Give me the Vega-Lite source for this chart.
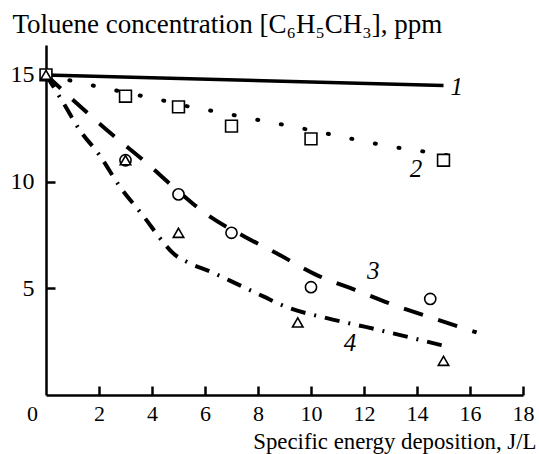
{
  "$schema": "https://vega.github.io/schema/vega-lite/v6.json",
  "width": 477,
  "height": 350,
  "autosize": {"type": "none"},
  "padding": {"left": 46, "top": 45, "right": 16, "bottom": 59},
  "background": "white",
  "config": {
    "view": {"stroke": null},
    "font": "Liberation Serif",
    "axis": {
      "grid": false,
      "domainColor": "black",
      "domainWidth": 2.5,
      "tickColor": "black",
      "tickWidth": 2.5,
      "labelFont": "Liberation Serif",
      "labelFontSize": 24,
      "labelColor": "black",
      "titleFont": "Liberation Serif",
      "titleFontSize": 22,
      "titleFontWeight": "normal",
      "titleColor": "black"
    }
  },
  "datasets": {
    "curves": [
      {"series": 1, "x": 0, "y": 15},
      {"series": 1, "x": 15, "y": 14.5},

      {"series": 2, "x": 0, "y": 15},
      {"series": 2, "x": 0.9, "y": 14.74},
      {"series": 2, "x": 1.85, "y": 14.48},
      {"series": 2, "x": 3.67, "y": 14.0},
      {"series": 2, "x": 4.55, "y": 13.76},
      {"series": 2, "x": 5.43, "y": 13.5},
      {"series": 2, "x": 6.38, "y": 13.29},
      {"series": 2, "x": 7.26, "y": 13.07},
      {"series": 2, "x": 8.2, "y": 12.84},
      {"series": 2, "x": 9.08, "y": 12.64},
      {"series": 2, "x": 9.98, "y": 12.41},
      {"series": 2, "x": 10.9, "y": 12.17},
      {"series": 2, "x": 11.8, "y": 11.94},
      {"series": 2, "x": 12.74, "y": 11.7},
      {"series": 2, "x": 13.63, "y": 11.52},
      {"series": 2, "x": 14.55, "y": 11.36},
      {"series": 2, "x": 15.5, "y": 11.16},

      {"series": 3, "x": 0, "y": 15},
      {"series": 3, "x": 1.4, "y": 13.4},
      {"series": 3, "x": 2.53, "y": 12.17},
      {"series": 3, "x": 3.74, "y": 10.93},
      {"series": 3, "x": 4.8, "y": 9.76},
      {"series": 3, "x": 6.1, "y": 8.43},
      {"series": 3, "x": 7.5, "y": 7.42},
      {"series": 3, "x": 8.7, "y": 6.64},
      {"series": 3, "x": 10.2, "y": 5.63},
      {"series": 3, "x": 11.66, "y": 4.93},
      {"series": 3, "x": 13.1, "y": 4.23},
      {"series": 3, "x": 14.6, "y": 3.6},
      {"series": 3, "x": 16.25, "y": 2.93},

      {"series": 4, "x": 0, "y": 15},
      {"series": 4, "x": 0.6, "y": 13.8},
      {"series": 4, "x": 1.28, "y": 12.4},
      {"series": 4, "x": 1.98, "y": 11.3},
      {"series": 4, "x": 2.79, "y": 9.76},
      {"series": 4, "x": 3.74, "y": 8.28},
      {"series": 4, "x": 4.3, "y": 7.35},
      {"series": 4, "x": 4.8, "y": 6.64},
      {"series": 4, "x": 5.37, "y": 6.2},
      {"series": 4, "x": 6.19, "y": 5.79},
      {"series": 4, "x": 6.94, "y": 5.36},
      {"series": 4, "x": 8.2, "y": 4.62},
      {"series": 4, "x": 9.08, "y": 4.12},
      {"series": 4, "x": 10.6, "y": 3.6},
      {"series": 4, "x": 12.06, "y": 3.19},
      {"series": 4, "x": 13.73, "y": 2.7},
      {"series": 4, "x": 14.93, "y": 2.33}
    ],
    "points": [
      {"series": 2, "x": 0, "y": 15},
      {"series": 2, "x": 3, "y": 14},
      {"series": 2, "x": 5, "y": 13.5},
      {"series": 2, "x": 7, "y": 12.6},
      {"series": 2, "x": 10, "y": 12},
      {"series": 2, "x": 15, "y": 11},
      {"series": 3, "x": 3, "y": 11},
      {"series": 3, "x": 5, "y": 9.4},
      {"series": 3, "x": 7, "y": 7.6},
      {"series": 3, "x": 10, "y": 5.05},
      {"series": 3, "x": 14.5, "y": 4.5},
      {"series": 4, "x": 0, "y": 15},
      {"series": 4, "x": 3, "y": 11},
      {"series": 4, "x": 5, "y": 7.6},
      {"series": 4, "x": 9.5, "y": 3.4},
      {"series": 4, "x": 15, "y": 1.6}
    ],
    "labels": [
      {"label": "1", "x": 15.5, "y": 14.45},
      {"label": "2", "x": 13.96, "y": 10.6},
      {"label": "3", "x": 12.35, "y": 5.79},
      {"label": "4", "x": 11.47, "y": 2.44}
    ]
  },
  "encoding": {
    "x": {
      "field": "x",
      "type": "quantitative",
      "scale": {"domain": [0, 18], "nice": false, "zero": false},
      "axis": {
        "values": [0, 2, 4, 6, 8, 10, 12, 14, 16, 18],
        "labelFont": "Liberation Serif",
        "labelFontSize": 22,
        "tickSize": -9,
        "tickOpacity": {"condition": {"test": "datum.value === 0", "value": 0}, "value": 1},
        "labelOffset": {"condition": {"test": "datum.value === 0", "value": -14}, "value": 0},
        "labelPadding": 17,
        "labelFlush": false,
        "labelOverlap": false,
        "title": "Specific energy deposition, J/L",
        "titleFont": "Liberation Serif",
        "titleFontSize": 22.8,
        "titleAnchor": "end",
        "titleAlign": "right",
        "titleBaseline": "alphabetic",
        "titleX": 490,
        "titleY": 53
      }
    },
    "y": {
      "field": "y",
      "type": "quantitative",
      "scale": {"domain": [0, 16.4], "nice": false, "zero": false},
      "axis": {
        "values": [5, 10, 15],
        "labelFont": "Liberation Serif",
        "labelFontSize": 24,
        "tickSize": -9,
        "labelPadding": 21,
        "title": "Toluene concentration [C₆H₅CH₃], ppm",
        "titleFont": "Liberation Serif",
        "titleFontSize": 27,
        "titleAngle": 0,
        "titleAlign": "left",
        "titleBaseline": "alphabetic",
        "titleX": -34,
        "titleY": -13
      }
    }
  },
  "layer": [
    {
      "data": {"name": "curves"},
      "transform": [{"filter": "datum.series === 1"}],
      "mark": {"type": "line", "color": "black", "strokeWidth": 3.5},
      "encoding": {}
    },
    {
      "data": {"name": "curves"},
      "transform": [{"filter": "datum.series === 2"}],
      "mark": {"type": "line", "color": "black", "strokeWidth": 4, "strokeDash": [1, 23], "strokeCap": "round"},
      "encoding": {}
    },
    {
      "data": {"name": "curves"},
      "transform": [{"filter": "datum.series === 3"}],
      "mark": {"type": "line", "color": "black", "strokeWidth": 4, "strokeDash": [20, 16], "interpolate": "monotone"},
      "encoding": {}
    },
    {
      "data": {"name": "curves"},
      "transform": [{"filter": "datum.series === 4"}],
      "mark": {"type": "line", "color": "black", "strokeWidth": 4, "strokeDash": [15, 9, 2, 9], "interpolate": "monotone"},
      "encoding": {}
    },
    {
      "data": {"name": "points"},
      "mark": {"type": "point", "filled": false, "color": "black", "strokeWidth": 1.6, "opacity": 1, "fill": "white", "fillOpacity": 1},
      "encoding": {
        "shape": {
          "field": "series",
          "type": "nominal",
          "scale": {"domain": [2, 3, 4], "range": ["square", "circle", "triangle-up"]},
          "legend": null
        },
        "size": {
          "field": "series",
          "type": "nominal",
          "scale": {"domain": [2, 3, 4], "range": [140, 110, 120]},
          "legend": null
        }
      }
    },
    {
      "data": {"name": "labels"},
      "mark": {"type": "text", "font": "Liberation Serif", "fontSize": 25, "fontStyle": "italic", "color": "black", "align": "center", "baseline": "middle"},
      "encoding": {"text": {"field": "label"}}
    }
  ]
}
